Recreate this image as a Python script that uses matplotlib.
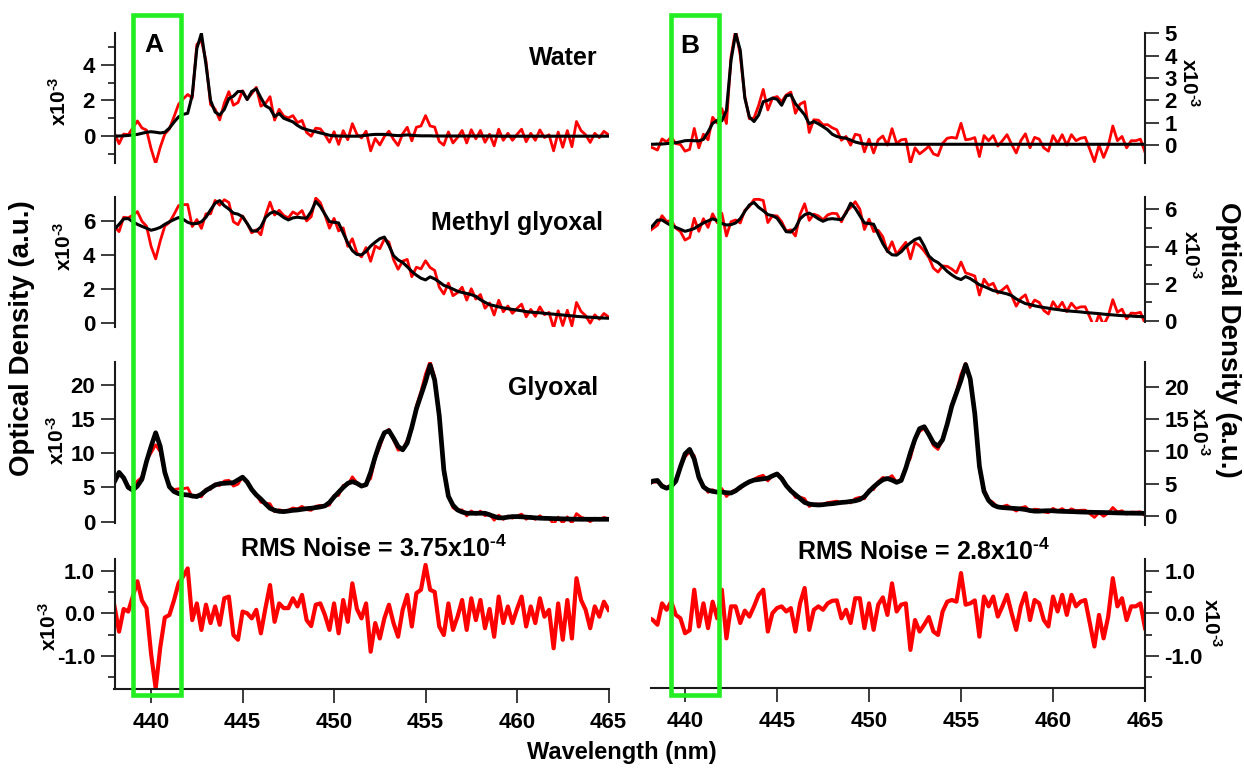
import numpy as np
import matplotlib
matplotlib.use('Agg')
import matplotlib.pyplot as plt
from matplotlib.patches import Rectangle
from matplotlib.transforms import blended_transform_factory
from matplotlib.ticker import MultipleLocator, FormatStrFormatter

plt.rcParams['font.family'] = ['Liberation Sans', 'DejaVu Sans']
plt.rcParams['font.weight'] = 'bold'
plt.rcParams['axes.unicode_minus'] = False
plt.rcParams['mathtext.fontset'] = 'custom'
plt.rcParams['mathtext.rm'] = 'Liberation Sans:bold'
plt.rcParams['mathtext.bf'] = 'Liberation Sans:bold'
plt.rcParams['mathtext.it'] = 'Liberation Sans:bold'

# wavelength grid, 0.25 nm steps (values below are in units of 1e-3)
wavelength = np.linspace(438.0, 465.0, 109)

# ---- panel A: fitted references (black) and residual ----
water_a = [
    0.00, 0.01, 0.02, 0.04,  0.07, 0.10, 0.16, 0.22,  0.25, 0.22, 0.18, 0.22,
    0.45, 0.78, 1.08, 1.22,  1.28, 2.30, 4.90, 5.75,  4.00, 2.00, 1.35, 1.18,
    1.50, 2.10, 2.24, 2.50,  2.50, 2.05, 2.50, 2.65,  2.15, 1.70, 1.55, 1.10,
    1.27, 1.00, 0.90, 0.80,  0.60, 0.45, 0.37, 0.30,  0.25, 0.18, 0.12, 0.05,
    0.02, 0.01, 0.00, 0.00,  0.00, 0.00, 0.02, 0.05,  0.08, 0.10, 0.10, 0.10,
    0.08, 0.05, 0.03, 0.05,  0.07, 0.05, 0.03, 0.02,  0.02, 0.02, 0.01, 0.01,
    0.01, 0.01, 0.01, 0.01,  0.01, 0.01, 0.01, 0.01,  0.01, 0.01, 0.01, 0.01,
    0.00, 0.00, 0.00, 0.00,  0.00, 0.00, 0.00, 0.00,  0.00, 0.00, 0.00, 0.00,
    0.00, 0.00, 0.00, 0.00,  0.00, 0.00, 0.00, 0.00,  0.00, 0.00, 0.00, 0.00,
    0.00]
methyl_a = [
    5.51, 5.80, 6.12, 6.14,  5.95, 5.80, 5.68, 5.57,  5.45, 5.52, 5.62, 5.80,
    5.95, 6.08, 6.20, 6.10,  5.92, 5.83, 5.85, 5.95,  6.22, 6.65, 7.05, 7.20,
    6.90, 6.70, 6.46, 6.40,  6.25, 5.85, 5.42, 5.40,  5.65, 6.20, 6.45, 6.55,
    6.40, 6.20, 6.06, 6.18,  6.22, 6.18, 6.16, 6.55,  7.15, 6.85, 6.40, 5.96,
    5.92, 5.88, 5.28, 4.70,  4.25, 4.02, 4.00, 4.20,  4.52, 4.75, 4.95, 5.05,
    4.55, 3.95, 3.70, 3.55,  3.30, 3.02, 2.80, 2.62,  2.52, 2.70, 2.58, 2.40,
    2.20, 2.10, 1.98, 1.85,  1.78, 1.72, 1.65, 1.55,  1.35, 1.20, 1.06, 1.00,
    0.93, 0.87, 0.82, 0.78,  0.74, 0.70, 0.65, 0.62,  0.60, 0.58, 0.55, 0.52,
    0.50, 0.47, 0.45, 0.42,  0.40, 0.37, 0.35, 0.33,  0.32, 0.30, 0.28, 0.27,
    0.26]
glyoxal_a = [
    5.85, 7.20, 6.40, 5.00,  4.60, 5.20, 6.20, 8.80,  11.0, 13.0, 11.0, 7.20,
    5.10, 4.40, 4.10, 3.95,  3.90, 3.75, 3.66, 4.00,  4.55, 4.95, 5.35, 5.55,
    5.60, 5.65, 5.70, 6.10,  6.50, 5.80, 4.70, 3.90,  3.30, 2.60, 1.95, 1.65,
    1.50, 1.46, 1.55, 1.65,  1.70, 1.80, 1.90, 1.95,  2.05, 2.15, 2.30, 2.80,
    3.60, 4.30, 5.00, 5.60,  5.85, 5.60, 5.20, 5.40,  7.20, 9.50, 11.5, 13.0,
    13.3, 12.2, 11.0, 10.5,  11.5, 13.8, 16.5, 18.5,  20.5, 22.9, 20.7, 15.5,
    7.56, 3.70, 2.40, 1.70,  1.40, 1.22, 1.22, 1.22,  1.22, 1.22, 1.00, 0.75,
    0.55, 0.55, 0.65, 0.73,  0.73, 0.70, 0.65, 0.60,  0.55, 0.50, 0.48, 0.46,
    0.44, 0.42, 0.40, 0.38,  0.36, 0.35, 0.34, 0.34,  0.34, 0.34, 0.34, 0.34,
    0.34]
resid_a = [
    0.16, -0.43, 0.10, 0.04,  0.39, 0.75, 0.30, 0.12,  -0.95, -1.76, -0.80, -0.10,
    -0.04, 0.30, 0.70, 0.86,  1.05, -0.16, 0.23, -0.39,  0.20, -0.23, 0.16, -0.27,
    0.35, 0.39, -0.51, -0.62,  0.04, 0.00, -0.12, 0.08,  -0.47, 0.12, 0.66, -0.20,
    0.23, 0.12, 0.12, 0.35,  0.16, 0.43, -0.16, -0.30,  0.20, 0.23, -0.04, -0.39,
    0.23, -0.47, 0.31, -0.20,  0.70, 0.10, -0.12, 0.23,  -0.90, -0.23, -0.59, -0.12,
    0.20, -0.23, -0.55, 0.08,  0.43, -0.31, 0.47, 0.55,  1.13, 0.55, 0.50, -0.31,
    -0.51, 0.23, -0.39, -0.08,  0.31, -0.39, 0.35, -0.16,  0.31, -0.35, 0.10, -0.55,
    0.39, -0.23, 0.16, -0.23,  0.10, 0.39, -0.31, 0.16,  -0.23, 0.35, -0.08, 0.08,
    -0.82, 0.23, -0.62, 0.31,  -0.59, 0.82, 0.31, 0.08,  -0.35, 0.16, -0.08, 0.27,
    0.08]

# ---- panel B ----
water_b = [
    0.03, 0.03, 0.04, 0.04,  0.06, 0.08, 0.10, 0.14,  0.19, 0.20, 0.19, 0.18,
    0.25, 0.58, 0.97, 1.10,  1.08, 1.55, 3.80, 5.00,  4.25, 2.10, 1.25, 1.05,
    1.34, 1.94, 2.00, 2.10,  2.05, 1.78, 2.20, 2.25,  1.85, 1.60, 1.35, 0.95,
    1.05, 0.95, 0.82, 0.68,  0.48, 0.38, 0.33, 0.30,  0.22, 0.13, 0.08, 0.04,
    0.03, 0.03, 0.03, 0.03,  0.03, 0.03, 0.03, 0.03,  0.03, 0.03, 0.03, 0.03,
    0.03, 0.03, 0.03, 0.03,  0.03, 0.03, 0.03, 0.03,  0.03, 0.03, 0.03, 0.03,
    0.03, 0.03, 0.03, 0.03,  0.03, 0.03, 0.03, 0.03,  0.03, 0.03, 0.03, 0.03,
    0.03, 0.03, 0.03, 0.03,  0.03, 0.03, 0.03, 0.03,  0.03, 0.03, 0.03, 0.03,
    0.03, 0.03, 0.03, 0.03,  0.03, 0.03, 0.03, 0.03,  0.03, 0.03, 0.03, 0.03,
    0.03]
methyl_b = [
    4.88, 5.13, 5.42, 5.43,  5.27, 5.13, 5.03, 4.93,  4.82, 4.89, 4.97, 5.13,
    5.27, 5.38, 5.49, 5.40,  5.24, 5.16, 5.18, 5.27,  5.50, 5.89, 6.24, 6.37,
    6.11, 5.93, 5.72, 5.66,  5.53, 5.18, 4.80, 4.78,  5.00, 5.49, 5.71, 5.80,
    5.66, 5.49, 5.36, 5.47,  5.50, 5.47, 5.45, 5.80,  6.33, 6.06, 5.66, 5.27,
    5.24, 5.20, 4.67, 4.16,  3.76, 3.56, 3.54, 3.72,  4.00, 4.20, 4.38, 4.47,
    4.03, 3.50, 3.27, 3.14,  2.92, 2.67, 2.48, 2.32,  2.23, 2.39, 2.28, 2.12,
    1.95, 1.86, 1.75, 1.64,  1.58, 1.52, 1.46, 1.37,  1.19, 1.06, 0.94, 0.89,
    0.82, 0.77, 0.73, 0.69,  0.65, 0.62, 0.58, 0.55,  0.53, 0.51, 0.49, 0.46,
    0.44, 0.42, 0.40, 0.37,  0.35, 0.33, 0.31, 0.29,  0.28, 0.27, 0.25, 0.24,
    0.23]
glyoxal_b = [
    5.00, 5.40, 5.50, 4.60,  4.30, 4.60, 5.40, 7.60,  9.60, 10.3, 8.80, 6.00,
    4.50, 4.00, 3.80, 3.70,  3.70, 3.60, 3.55, 3.90,  4.45, 4.90, 5.30, 5.55,
    5.65, 5.75, 5.85, 6.20,  6.50, 5.80, 4.70, 3.90,  3.30, 2.70, 2.10, 1.85,
    1.75, 1.70, 1.75, 1.85,  1.90, 2.00, 2.10, 2.15,  2.25, 2.35, 2.55, 3.00,
    3.80, 4.50, 5.10, 5.60,  5.80, 5.55, 5.20, 5.50,  7.40, 9.80, 11.9, 13.5,
    13.8, 12.6, 11.3, 10.8,  11.8, 14.2, 17.0, 19.0,  21.0, 23.4, 21.2, 15.8,
    7.70, 3.80, 2.40, 1.70,  1.40, 1.30, 1.25, 1.20,  1.15, 1.10, 1.00, 0.85,
    0.75, 0.75, 0.80, 0.82,  0.80, 0.75, 0.72, 0.70,  0.68, 0.65, 0.62, 0.60,
    0.58, 0.56, 0.55, 0.54,  0.52, 0.50, 0.48, 0.46,  0.45, 0.44, 0.43, 0.42,
    0.42]
resid_b = [
    -0.10, -0.16, -0.27, 0.23,  0.08, 0.27, -0.04, -0.12,  -0.47, -0.40, 0.55, -0.31,
    0.23, -0.35, 0.27, -0.12,  0.55, -0.59, 0.16, 0.16,  -0.23, 0.06, -0.08, 0.16,
    0.43, 0.55, -0.43, 0.00,  0.12, 0.16, 0.04, 0.12,  -0.43, 0.23, 0.59, -0.39,
    0.08, 0.16, 0.08, 0.23,  0.29, 0.30, -0.12, 0.08,  -0.23, 0.35, 0.35, -0.35,
    0.23, -0.39, 0.20, 0.37,  -0.04, 0.70, 0.04, 0.20,  0.23, -0.86, -0.16, -0.43,
    -0.27, -0.09, -0.43, -0.51,  0.04, 0.27, 0.31, 0.27,  0.94, 0.20, 0.23, 0.30,
    -0.55, 0.39, 0.16, 0.39,  -0.08, 0.16, 0.43, 0.00,  -0.39, 0.16, 0.47, -0.16,
    0.31, 0.23, -0.16, -0.31,  0.39, 0.04, 0.43, -0.04,  0.43, 0.16, 0.27, 0.31,
    -0.23, -0.78, -0.04, -0.59,  -0.08, 0.82, 0.16, 0.35,  -0.16, 0.16, 0.16, 0.23,
    -0.35]

species = ['Water', 'Methyl glyoxal', 'Glyoxal']

W, H = 1244, 770
fig = plt.figure(figsize=(W / 100, H / 100), dpi=100)


def box(px_left, px_top, px_w, px_h):
    return [px_left / W, 1 - (px_top + px_h) / H, px_w / W, px_h / H]


spine_col = '#1a1a1a'


def style(ax, side, bottom=False):
    for s in ['top', 'left', 'right', 'bottom']:
        ax.spines[s].set_visible(False)
    ax.spines[side].set_visible(True)
    ax.spines[side].set_color(spine_col)
    ax.spines[side].set_linewidth(1.5)
    ax.patch.set_alpha(0)
    if side == 'right':
        ax.yaxis.tick_right()
    ax.tick_params(axis='y', which='major', length=10, width=1.2, labelsize=16,
                   pad=4, colors=spine_col, labelcolor='black')
    ax.tick_params(axis='y', which='minor', length=5, width=1.2, colors=spine_col)
    if bottom:
        ax.spines['bottom'].set_visible(True)
        ax.spines['bottom'].set_color(spine_col)
        ax.spines['bottom'].set_linewidth(1.5)
        ax.xaxis.set_major_locator(MultipleLocator(5))
        ax.tick_params(axis='x', length=10, width=1.2, labelsize=16, pad=6,
                       colors=spine_col, labelcolor='black')
    else:
        ax.tick_params(axis='x', bottom=False, labelbottom=False)


def draw(ax, black, resid, lw_black=2.2):
    black = np.array(black)
    red = black + np.array(resid)
    ax.plot(wavelength, red, color='#ff0000', lw=2.0, solid_joinstyle='round')
    ax.plot(wavelength, black, color='black', lw=lw_black, solid_joinstyle='round')


def x10(ax, xfrac, yfrac, rot):
    ax.text(xfrac, yfrac, r'x10$^{\text{-3}}$', transform=ax.transAxes, rotation=rot,
            ha='center', va='center', fontsize=15, fontweight='bold')


# ---------------- Panel A (left) ----------------
xl_a = (438.0, 465.0)
ax_w = fig.add_axes(box(114.5, 33, 494, 130))
ax_m = fig.add_axes(box(114.5, 196.7, 494, 130))
ax_g = fig.add_axes(box(114.5, 361.7, 494, 161.6))
ax_r = fig.add_axes(box(114.5, 559, 494, 130.3))

draw(ax_w, water_a, resid_a)
ax_w.set_ylim(-1.5, 5.77)
ax_w.yaxis.set_major_locator(MultipleLocator(2))
ax_w.yaxis.set_minor_locator(MultipleLocator(1))
style(ax_w, 'left')

draw(ax_m, methyl_a, resid_a)
ax_m.set_ylim(-0.24, 7.43)
ax_m.yaxis.set_major_locator(MultipleLocator(2))
style(ax_m, 'left')

draw(ax_g, glyoxal_a, resid_a, lw_black=3.4)
ax_g.set_ylim(-0.25, 23.4)
ax_g.yaxis.set_major_locator(MultipleLocator(5))
style(ax_g, 'left')

ax_r.plot(wavelength, resid_a, color='#ff0000', lw=3.0, solid_joinstyle='round')
ax_r.set_ylim(-1.78, 1.27)
ax_r.yaxis.set_major_locator(MultipleLocator(1))
ax_r.yaxis.set_minor_locator(MultipleLocator(0.5))
ax_r.yaxis.set_major_formatter(FormatStrFormatter('%.1f'))
style(ax_r, 'left', bottom=True)

for ax in (ax_w, ax_m, ax_g, ax_r):
    ax.set_xlim(*xl_a)

x10(ax_w, -0.112, 0.477, 90)
x10(ax_m, -0.102, 0.620, 90)
x10(ax_g, -0.117, 0.515, 90)
x10(ax_r, -0.132, 0.486, 90)

ax_w.text(0.977, 0.81, species[0], transform=ax_w.transAxes, ha='right',
          va='center', fontsize=18, fontweight='bold')
ax_m.text(0.989, 0.80, species[1], transform=ax_m.transAxes, ha='right',
          va='center', fontsize=18, fontweight='bold')
ax_g.text(0.979, 0.837, species[2], transform=ax_g.transAxes, ha='right',
          va='center', fontsize=18, fontweight='bold')

# ---------------- Panel B (right) ----------------
xl_b = (438.15, 465.0)
bx_w = fig.add_axes(box(651, 33, 494, 130))
bx_m = fig.add_axes(box(651, 196.7, 494, 125.3))
bx_g = fig.add_axes(box(651, 361.7, 494, 163.3))
bx_r = fig.add_axes(box(651, 559, 494, 129.3))

draw(bx_w, water_b, resid_b)
bx_w.set_ylim(-0.81, 5.02)
bx_w.yaxis.set_major_locator(MultipleLocator(1))
style(bx_w, 'right')

draw(bx_m, methyl_b, resid_b)
bx_m.set_ylim(-0.05, 6.68)
bx_m.yaxis.set_major_locator(MultipleLocator(2))
bx_m.yaxis.set_minor_locator(MultipleLocator(1))
style(bx_m, 'right')

draw(bx_g, glyoxal_b, resid_b, lw_black=3.4)
bx_g.set_ylim(-1.39, 23.85)
bx_g.yaxis.set_major_locator(MultipleLocator(5))
style(bx_g, 'right')

bx_r.plot(wavelength, resid_b, color='#ff0000', lw=3.0, solid_joinstyle='round')
bx_r.set_ylim(-1.76, 1.27)
bx_r.yaxis.set_major_locator(MultipleLocator(1))
bx_r.yaxis.set_minor_locator(MultipleLocator(0.5))
bx_r.yaxis.set_major_formatter(FormatStrFormatter('%.1f'))
style(bx_r, 'right', bottom=True)
bx_r.spines['right'].set_bounds(-2.05, 1.27)

for ax in (bx_w, bx_m, bx_g, bx_r):
    ax.set_xlim(*xl_b)

x10(bx_w, 1.089, 0.62, -90)
x10(bx_m, 1.093, 0.535, -90)
x10(bx_g, 1.109, 0.57, -90)
x10(bx_r, 1.133, 0.51, -90)

# ---------------- shared labels ----------------
fig.text(22 / W, 1 - 338 / H, 'Optical Density (a.u.)', rotation=90,
         ha='center', va='center', fontsize=20, fontweight='bold')
fig.text(1228 / W, 1 - 340 / H, 'Optical Density (a.u.)', rotation=-90,
         ha='center', va='center', fontsize=20, fontweight='bold')
fig.text(622 / W, 1 - 752 / H, 'Wavelength (nm)', ha='center', va='center',
         fontsize=17, fontweight='bold')
fig.text(374 / W, 1 - 549 / H, r'RMS Noise = 3.75x10$^{\text{-4}}$', ha='center',
         va='center', fontsize=18, fontweight='bold')
fig.text(924 / W, 1 - 552 / H, r'RMS Noise = 2.8x10$^{\text{-4}}$', ha='center',
         va='center', fontsize=18, fontweight='bold')
fig.text(154 / W, 1 - 45 / H, 'A', ha='center', va='center', fontsize=19,
         fontweight='bold')
fig.text(690 / W, 1 - 46 / H, 'B', ha='center', va='center', fontsize=19,
         fontweight='bold')

# excluded windows (green boxes), x in nm, y in figure fraction
green = '#22ee22'
box_top, box_bot = 1 - 15.3 / H, 1 - 694.5 / H
for ax, (lo, hi) in ((ax_r, (439.0, 441.65)), (bx_r, (439.21, 441.83))):
    tr = blended_transform_factory(ax.transData, fig.transFigure)
    fig.add_artist(Rectangle((lo, box_bot), hi - lo, box_top - box_bot,
                             transform=tr, fill=False, edgecolor=green,
                             lw=3.3, clip_on=False, zorder=10))

fig.savefig('out.png', dpi=100)
